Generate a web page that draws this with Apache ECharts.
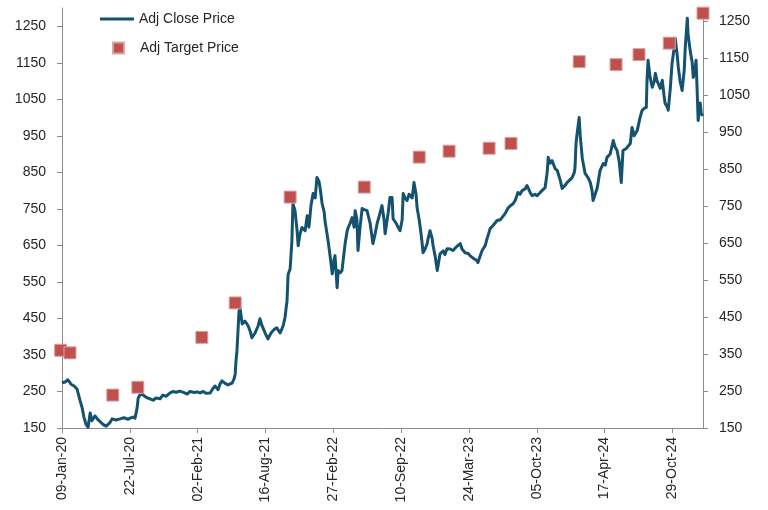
<!DOCTYPE html>
<html>
<head>
<meta charset="utf-8">
<title>Adj Close vs Target Price</title>
<script src="https://cdn.jsdelivr.net/npm/echarts@6/dist/echarts.min.js"></script>
<style>
  html, body { margin: 0; padding: 0; background: #fff; }
  #chart { width: 768px; height: 510px; }
</style>
</head>
<body>
<div id="chart"></div>
<script>
// day 0 of the x axis
var startDate = '2020-01-09';

// x axis labels every 195 days (day offsets from startDate)
var xTickDays = [0, 195, 390, 585, 780, 975, 1170, 1365, 1560, 1755];
var yTicks = [150, 250, 350, 450, 550, 650, 750, 850, 950, 1050, 1150, 1250];

// adj close price: [days since startDate, price]
var closePrice = [
    [0, 274], [9, 276], [17, 282], [26, 270], [35, 265], [43, 257], [52, 225], [58, 205],
    [63, 180], [69, 160], [75, 152], [81, 191], [86, 170], [95, 183], [104, 172], [109, 169],
    [118, 160], [127, 155], [132, 150], [138, 165], [144, 175], [155, 172], [167, 175], [178, 178],
    [190, 174], [196, 177], [204, 180], [210, 177], [216, 205], [219, 232], [224, 240], [230, 243],
    [239, 236], [247, 232], [253, 230], [262, 226], [270, 232], [282, 230], [290, 240], [299, 237],
    [311, 246], [319, 250], [328, 248], [339, 251], [351, 247], [360, 243], [368, 250], [380, 247],
    [388, 249], [397, 246], [406, 250], [414, 245], [426, 246], [434, 258], [440, 265], [449, 255],
    [454, 270], [460, 279], [469, 272], [477, 268], [489, 273], [495, 285], [498, 298], [500, 330],
    [503, 361], [506, 416], [509, 470], [512, 479], [518, 435], [526, 443], [535, 430], [541, 415],
    [546, 397], [555, 410], [564, 430], [569, 449], [575, 430], [578, 424], [584, 410], [592, 394],
    [601, 410], [610, 420], [618, 424], [627, 410], [636, 430], [641, 452], [644, 475], [647, 498],
    [650, 570], [656, 586], [661, 663], [664, 764], [670, 745], [676, 690], [679, 649], [684, 680],
    [690, 699], [699, 690], [705, 731], [710, 700], [716, 760], [722, 792], [728, 780], [733, 836],
    [739, 825], [742, 808], [748, 764], [754, 740], [756, 718], [765, 663], [771, 620], [777, 572],
    [782, 610], [785, 622], [791, 534], [794, 581], [800, 575], [805, 581], [814, 655], [820, 690],
    [823, 699], [828, 710], [834, 726], [840, 700], [843, 745], [848, 720], [851, 636], [857, 700],
    [863, 751], [869, 748], [877, 745], [886, 710], [894, 655], [900, 680], [906, 710], [912, 730],
    [920, 759], [926, 720], [929, 682], [938, 740], [943, 781], [949, 781], [952, 723], [961, 710],
    [966, 700], [972, 690], [978, 720], [981, 792], [986, 780], [992, 773], [998, 790], [1001, 795],
    [1007, 780], [1012, 822], [1018, 790], [1021, 753], [1027, 720], [1030, 699], [1035, 660], [1038, 630],
    [1044, 640], [1050, 655], [1053, 670], [1058, 690], [1064, 670], [1067, 649], [1073, 620], [1079, 581],
    [1084, 610], [1087, 627], [1096, 635], [1101, 625], [1107, 641], [1116, 640], [1124, 636], [1133, 645],
    [1145, 655], [1150, 640], [1159, 630], [1168, 628], [1173, 622], [1182, 615], [1191, 610], [1196, 603],
    [1202, 620], [1208, 636], [1217, 650], [1222, 668], [1231, 696], [1240, 705], [1251, 718], [1260, 720],
    [1265, 718], [1274, 737], [1283, 753], [1291, 760], [1297, 764], [1303, 773], [1311, 795], [1317, 790],
    [1323, 800], [1332, 805], [1337, 814], [1346, 795], [1352, 786], [1360, 790], [1366, 786], [1375, 795],
    [1380, 800], [1389, 808], [1395, 850], [1398, 891], [1403, 875], [1409, 882], [1418, 860], [1424, 855],
    [1432, 830], [1438, 806], [1447, 815], [1452, 822], [1461, 830], [1467, 836], [1473, 850], [1475, 863],
    [1478, 930], [1481, 956], [1487, 1000], [1490, 950], [1496, 888], [1504, 847], [1513, 835], [1519, 822],
    [1524, 800], [1527, 773], [1533, 790], [1539, 808], [1547, 855], [1556, 874], [1562, 870], [1567, 891],
    [1576, 900], [1585, 937], [1590, 920], [1596, 910], [1602, 880], [1608, 822], [1613, 910], [1622, 915],
    [1634, 929], [1639, 973], [1645, 950], [1654, 965], [1662, 1000], [1668, 1020], [1674, 1025], [1680, 1028],
    [1682, 1100], [1685, 1157], [1691, 1110], [1697, 1083], [1703, 1100], [1706, 1121], [1711, 1100], [1714, 1094],
    [1720, 1080], [1726, 1102], [1731, 1060], [1734, 1039], [1740, 1030], [1743, 1020], [1749, 1080], [1754, 1148],
    [1760, 1190], [1763, 1217], [1769, 1170], [1772, 1138], [1777, 1100], [1783, 1074], [1789, 1130], [1792, 1192],
    [1798, 1272], [1800, 1230], [1806, 1184], [1812, 1150], [1815, 1110], [1821, 1140], [1823, 1157], [1826, 1080],
    [1829, 992], [1835, 1040], [1838, 1010], [1843, 1005]
];

// adj target price
var targetDates = [
    '2020-01-05', '2020-02-01', '2020-06-03', '2020-08-14', '2021-02-14', '2021-05-21',
    '2021-10-26', '2022-05-27', '2022-11-01', '2023-01-26', '2023-05-21', '2023-07-23',
    '2024-02-04', '2024-05-20', '2024-07-25', '2024-10-20', '2025-01-25'
];
var targetValues = [360, 353, 239, 260, 395, 488, 774, 801, 882, 898, 906, 919, 1140, 1132, 1159, 1190, 1271];

var DAY = 86400000;
var start = Date.parse(startDate);
var months = ['Jan', 'Feb', 'Mar', 'Apr', 'May', 'Jun', 'Jul', 'Aug', 'Sep', 'Oct', 'Nov', 'Dec'];

function dayLabel (day) {
    var d = new Date(start + day * DAY);
    var dd = ('0' + d.getUTCDate()).slice(-2);
    var yy = ('0' + (d.getUTCFullYear() % 100)).slice(-2);
    return dd + '-' + months[d.getUTCMonth()] + '-' + yy;
}

var targetData = targetDates.map(function (s, i) {
    return [Math.round((Date.parse(s) - start) / DAY), targetValues[i]];
});

var font = 'Liberation Sans';
var axisGray = '#8c8c8c';
var textColor = '#262626';
var lineColor = '#15526f';
var markerColor = '#c0504d';

function yAxis (position, max) {
    return {
        type: 'value',
        position: position,
        min: 150,
        max: max,
        interval: 100,
        splitLine: { show: false },
        axisLine: { show: true, lineStyle: { color: axisGray, width: 1 } },
        axisTick: { show: true, length: 5, customValues: yTicks, lineStyle: { color: axisGray } },
        axisLabel: {
            customValues: yTicks,
            margin: 16,
            color: textColor,
            fontFamily: font,
            fontSize: 14,
            formatter: function (v) { return String(v); }
        }
    };
}

var chart = echarts.init(document.getElementById('chart'), null, { renderer: 'canvas' });

chart.setOption({
    animation: false,
    backgroundColor: '#fff',
    grid: {
        left: 62,
        right: 65,
        top: 8,
        bottom: 82,
        containLabel: false,
        outerBoundsMode: 'none'
    },
    legend: [
        {
            left: 95,
            top: 7,
            itemWidth: 34,
            itemHeight: 3,
            icon: 'rect',
            textStyle: { color: textColor, fontFamily: font, fontSize: 14 },
            data: ['Adj Close Price']
        },
        {
            left: 107,
            top: 36,
            itemWidth: 11,
            itemHeight: 11,
            icon: 'rect',
            textStyle: { color: textColor, fontFamily: font, fontSize: 14, padding: [0, 0, 0, 11] },
            data: ['Adj Target Price']
        }
    ],
    xAxis: {
        type: 'value',
        min: 0,
        max: 1843,
        interval: 195,
        splitLine: { show: false },
        axisLine: { show: true, onZero: false, lineStyle: { color: axisGray, width: 1 } },
        axisTick: { show: true, length: 5, customValues: xTickDays, lineStyle: { color: axisGray } },
        axisLabel: {
            customValues: xTickDays,
            rotate: 90,
            margin: 9,
            color: textColor,
            fontFamily: font,
            fontSize: 14,
            formatter: dayLabel
        }
    },
    yAxis: [yAxis('left', 1300), yAxis('right', 1285)],
    series: [
        {
            name: 'Adj Close Price',
            type: 'line',
            yAxisIndex: 0,
            data: closePrice,
            symbol: 'none',
            showSymbol: false,
            z: 2,
            itemStyle: { color: lineColor },
            lineStyle: { color: lineColor, width: 3, join: 'round' }
        },
        {
            name: 'Adj Target Price',
            type: 'scatter',
            yAxisIndex: 1,
            data: targetData,
            symbol: 'rect',
            symbolSize: 12,
            clip: false,
            z: 3,
            itemStyle: {
                color: markerColor,
                borderColor: '#d9a3a1',
                borderWidth: 1,
                opacity: 1
            }
        }
    ]
});
</script>
</body>
</html>
